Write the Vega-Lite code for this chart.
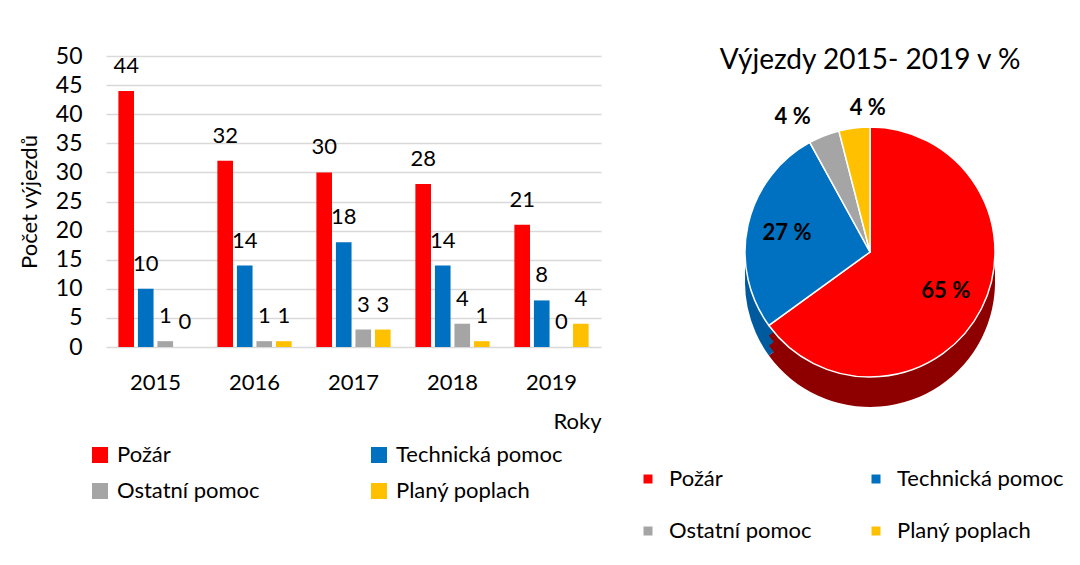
{
  "$schema": "https://vega.github.io/schema/vega-lite/v6.json",
  "padding": {"left": 18, "top": 45, "right": 0, "bottom": 0},
  "background": "white",
  "spacing": 36,
  "config": {
    "font": "Lato",
    "view": {"stroke": null},
    "text": {"color": "#000000"},
    "axis": {"labelColor": "#000000", "titleColor": "#000000", "titleFontWeight": "normal", "labelFont": "Lato", "titleFont": "Lato"},
    "legend": {"labelColor": "#000000", "labelFont": "Lato", "labelLimit": 400},
    "title": {"color": "#000000", "font": "Lato"}
  },
  "datasets": {
    "bars": [
      {"rok": "2015", "druh": "Požár", "pocet": 44},
      {"rok": "2015", "druh": "Technická pomoc", "pocet": 10},
      {"rok": "2015", "druh": "Ostatní pomoc", "pocet": 1},
      {"rok": "2015", "druh": "Planý poplach", "pocet": 0},
      {"rok": "2016", "druh": "Požár", "pocet": 32},
      {"rok": "2016", "druh": "Technická pomoc", "pocet": 14},
      {"rok": "2016", "druh": "Ostatní pomoc", "pocet": 1},
      {"rok": "2016", "druh": "Planý poplach", "pocet": 1},
      {"rok": "2017", "druh": "Požár", "pocet": 30},
      {"rok": "2017", "druh": "Technická pomoc", "pocet": 18},
      {"rok": "2017", "druh": "Ostatní pomoc", "pocet": 3},
      {"rok": "2017", "druh": "Planý poplach", "pocet": 3},
      {"rok": "2018", "druh": "Požár", "pocet": 28},
      {"rok": "2018", "druh": "Technická pomoc", "pocet": 14},
      {"rok": "2018", "druh": "Ostatní pomoc", "pocet": 4},
      {"rok": "2018", "druh": "Planý poplach", "pocet": 1},
      {"rok": "2019", "druh": "Požár", "pocet": 21},
      {"rok": "2019", "druh": "Technická pomoc", "pocet": 8},
      {"rok": "2019", "druh": "Ostatní pomoc", "pocet": 0},
      {"rok": "2019", "druh": "Planý poplach", "pocet": 4}
    ],
    "pie": [
      {"druh": "Požár", "podil": 65, "popisek": "65 %", "poradi": 1},
      {"druh": "Technická pomoc", "podil": 27, "popisek": "27 %", "poradi": 2},
      {"druh": "Ostatní pomoc", "podil": 4, "popisek": "4 %", "poradi": 3},
      {"druh": "Planý poplach", "podil": 4, "popisek": "4 %", "poradi": 4}
    ]
  },
  "resolve": {"scale": {"color": "independent"}, "legend": {"color": "independent"}},
  "hconcat": [
    {
      "width": 495,
      "height": 291,
      "data": {"name": "bars"},
      "encoding": {
        "x": {
          "field": "rok", "type": "nominal",
          "scale": {"paddingInner": 0.25, "paddingOuter": 0.125},
          "axis": {"title": "Roky", "titleAnchor": "end", "titleFontSize": 22, "titlePadding": 18, "labelAngle": 0, "labelFontSize": 22, "labelPadding": 25, "ticks": false, "domain": false}
        },
        "xOffset": {"field": "druh", "type": "nominal", "scale": {"domain": ["Požár", "Technická pomoc", "Ostatní pomoc", "Planý poplach"], "paddingInner": 0.2}},
        "y": {
          "field": "pocet", "type": "quantitative",
          "scale": {"domain": [0, 50]},
          "axis": {"title": "Počet výjezdů", "titleFontSize": 22, "titlePadding": 14, "values": [0, 5, 10, 15, 20, 25, 30, 35, 40, 45, 50], "grid": true, "gridColor": "#d9d9d9", "gridWidth": 1.3, "domain": false, "ticks": false, "labelFontSize": 23, "labelPadding": 24}
        }
      },
      "layer": [
        {
          "mark": {"type": "bar"},
          "encoding": {
            "color": {
              "field": "druh", "type": "nominal",
              "scale": {"domain": ["Požár", "Technická pomoc", "Ostatní pomoc", "Planý poplach"], "range": ["#ff0000", "#0070c0", "#a5a5a5", "#ffc000"]},
              "legend": {"title": null, "orient": "none", "legendX": -17, "legendY": 388, "columns": 2, "direction": "horizontal", "symbolType": "square", "symbolSize": 256, "symbolStrokeWidth": 0, "labelFontSize": 22, "labelOffset": 6, "columnPadding": 108, "rowPadding": 14}
            }
          }
        },
        {
          "mark": {"type": "text", "baseline": "alphabetic", "dy": -18, "fontSize": 22},
          "encoding": {"text": {"field": "pocet", "type": "quantitative"}}
        }
      ]
    },
    {
      "width": 420,
      "height": 392,
      "title": {"text": "Výjezdy 2015- 2019 v %", "fontSize": 28, "fontWeight": "normal", "offset": -19},
      "data": {"name": "pie"},
      "encoding": {
        "theta": {"field": "podil", "type": "quantitative", "stack": true},
        "order": {"field": "poradi", "type": "quantitative"}
      },
      "layer": [
        {
          "mark": {"type": "arc", "outerRadius": 125, "yOffset": 30},
          "encoding": {"fill": {"field": "druh", "type": "nominal", "scale": {"domain": ["Požár", "Technická pomoc", "Ostatní pomoc", "Planý poplach"], "range": ["#8e0000", "#005a9e", "#7f7f7f", "#c09000"]}, "legend": null}}
        },
        {
          "mark": {"type": "arc", "outerRadius": 125, "yOffset": 20},
          "encoding": {"fill": {"field": "druh", "type": "nominal", "legend": null}}
        },
        {
          "mark": {"type": "arc", "outerRadius": 125, "yOffset": 10},
          "encoding": {"fill": {"field": "druh", "type": "nominal", "legend": null}}
        },
        {
          "mark": {"type": "arc", "outerRadius": 125, "stroke": "white", "strokeWidth": 1.5},
          "encoding": {
            "color": {
              "field": "druh", "type": "nominal",
              "scale": {"domain": ["Požár", "Technická pomoc", "Ostatní pomoc", "Planý poplach"], "range": ["#ff0000", "#0070c0", "#a5a5a5", "#ffc000"]},
              "legend": {"title": null, "orient": "none", "legendX": -23, "legendY": 412, "columns": 2, "direction": "horizontal", "symbolType": "square", "symbolSize": 81, "symbolStrokeWidth": 0, "labelFontSize": 22, "labelOffset": 10, "columnPadding": 53, "rowPadding": 30}
            }
          }
        },
        {
          "mark": {"type": "text", "radius": 85, "fontSize": 22, "fontWeight": "bold"},
          "encoding": {"text": {"condition": {"test": "datum.podil >= 10", "field": "popisek"}, "value": ""}}
        },
        {
          "mark": {"type": "text", "radius": 145, "dx": -24, "fontSize": 22, "fontWeight": "bold"},
          "encoding": {"text": {"condition": {"test": "datum.druh === 'Ostatní pomoc'", "field": "popisek"}, "value": ""}}
        },
        {
          "mark": {"type": "text", "radius": 145, "dx": 16, "fontSize": 22, "fontWeight": "bold"},
          "encoding": {"text": {"condition": {"test": "datum.druh === 'Planý poplach'", "field": "popisek"}, "value": ""}}
        }
      ]
    }
  ]
}
